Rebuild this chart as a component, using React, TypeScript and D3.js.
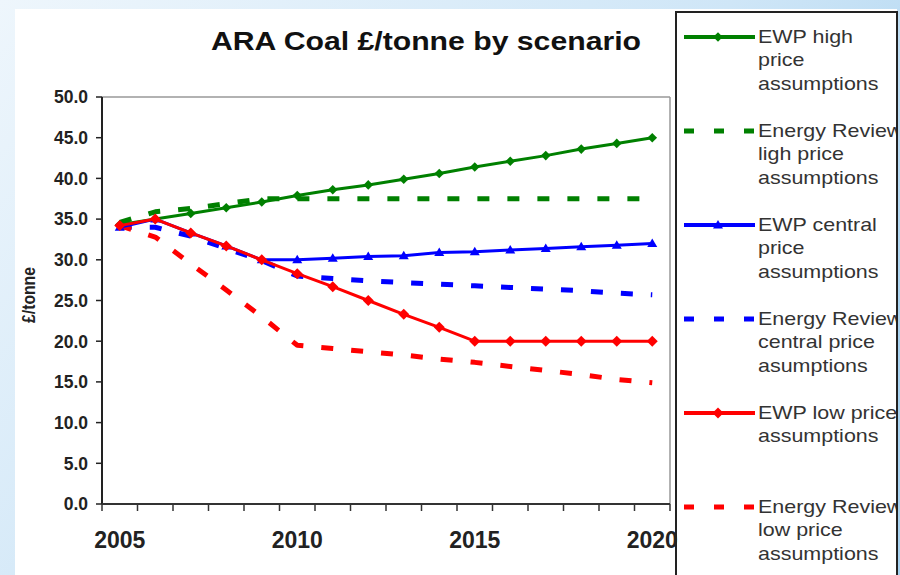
import React from 'react';
import * as d3 from 'd3';

const years = [2005, 2006, 2007, 2008, 2009, 2010, 2011, 2012, 2013, 2014, 2015, 2016, 2017, 2018, 2019, 2020];
const xLabelYears = [2005, 2010, 2015, 2020];
const yTicks = [0, 5, 10, 15, 20, 25, 30, 35, 40, 45, 50];

const ewpHigh = [34.3, 35.0, 35.7, 36.4, 37.1, 37.9, 38.6, 39.2, 39.9, 40.6, 41.4, 42.1, 42.8, 43.6, 44.3, 45.0];
const erHigh = [34.6, 35.9, 36.3, 36.9, 37.5, 37.5, 37.5, 37.5, 37.5, 37.5, 37.5, 37.5, 37.5, 37.5, 37.5, 37.5];
const ewpCentral = [34.0, 35.0, 33.3, 31.7, 30.0, 30.0, 30.2, 30.4, 30.5, 30.9, 31.0, 31.2, 31.4, 31.6, 31.8, 32.0];
const erCentral = [34.0, 34.0, 32.9, 31.4, 29.9, 28.0, 27.7, 27.4, 27.2, 27.0, 26.8, 26.6, 26.4, 26.2, 25.9, 25.7];
const ewpLow = [34.2, 35.0, 33.3, 31.7, 30.0, 28.3, 26.7, 25.0, 23.3, 21.7, 20.0, 20.0, 20.0, 20.0, 20.0, 20.0];
const erLow = [34.2, 32.8, 29.5, 26.3, 23.0, 19.5, 19.1, 18.7, 18.3, 17.8, 17.4, 16.9, 16.4, 15.9, 15.3, 14.9];

const titleText = 'ARA Coal £/tonne by scenario';
const yAxisLabel = '£/tonne';

const legendHigh = ['EWP high', 'price', 'assumptions'];
const legendErHigh = ['Energy Review', 'ligh price', 'assumptions'];
const legendCentral = ['EWP central', 'price', 'assumptions'];
const legendErCentral = ['Energy Review', 'central price', 'asumptions'];
const legendLow = ['EWP low price', 'assumptions'];
const legendErLow = ['Energy Review', 'low price', 'assumptions'];

type Series = {
  values: number[];
  label: string[];
  color: string;
  dashed: boolean;
  marker: 'diamond' | 'bigdiamond' | 'triangle' | null;
  legendBaseline: number;
};

const series: Series[] = [
  { values: ewpHigh, label: legendHigh, color: '#008000', dashed: false, marker: 'diamond', legendBaseline: 43 },
  { values: erHigh, label: legendErHigh, color: '#008000', dashed: true, marker: null, legendBaseline: 137 },
  { values: ewpCentral, label: legendCentral, color: '#0000ff', dashed: false, marker: 'triangle', legendBaseline: 231 },
  { values: erCentral, label: legendErCentral, color: '#0000ff', dashed: true, marker: null, legendBaseline: 325 },
  { values: ewpLow, label: legendLow, color: '#ff0000', dashed: false, marker: 'bigdiamond', legendBaseline: 419 },
  { values: erLow, label: legendErLow, color: '#ff0000', dashed: true, marker: null, legendBaseline: 513 },
];

const drawOrder = [1, 3, 5, 0, 2, 4];

function markerPath(kind: string): string {
  if (kind === 'triangle') return 'M0,-5L5,3.5L-5,3.5Z';
  const r = kind === 'bigdiamond' ? 5.5 : 4.8;
  return `M0,${-r}L${r},0L0,${r}L${-r},0Z`;
}

export default function App() {
  const W = 900;
  const H = 575;
  const plotL = 102, plotR = 670, plotT = 97, plotB = 504;

  const x = d3.scaleBand<number>().domain(years).range([plotL, plotR]).padding(0);
  const cx = (yr: number) => (x(yr) as number) + x.bandwidth() / 2;
  const y = d3.scaleLinear().domain([0, 50]).range([plotB, plotT]);
  const line = d3
    .line<number>()
    .x((_, i) => cx(years[i]))
    .y((d) => y(d));

  const tickXs = [...years.map((yr) => x(yr) as number), plotR];
  const font = '"Liberation Sans", Arial, sans-serif';

  return (
    <svg
      width={W}
      height={H}
      style={{ position: 'absolute', left: 0, top: 0, display: 'block' }}
      fontFamily={font}
    >
      <defs>
        <linearGradient id="bg" x1="0" y1="0" x2="1" y2="0.6">
          <stop offset="0" stopColor="#eef6fc" />
          <stop offset="0.6" stopColor="#cfe6f7" />
          <stop offset="1" stopColor="#a6d1ef" />
        </linearGradient>
        <clipPath id="legclip">
          <rect x={676} y={12} width={220} height={600} />
        </clipPath>
      </defs>
      <rect x={0} y={0} width={W} height={H} fill="url(#bg)" />
      <rect x={15} y={9} width={882} height={H} fill="#ffffff" />

      {/* title */}
      <text
        x={426}
        y={50}
        textAnchor="middle"
        fontWeight="bold"
        fontSize={25}
        fill="#111"
        textLength={430}
        lengthAdjust="spacingAndGlyphs"
      >
        {titleText}
      </text>

      {/* plot frame */}
      <line x1={plotL} x2={plotR} y1={plotT} y2={plotT} stroke="#999" strokeWidth={1.5} />
      <line x1={plotR} x2={plotR} y1={plotT} y2={plotB} stroke="#999" strokeWidth={1.5} />

      {/* y axis */}
      <line x1={plotL} x2={plotL} y1={plotT} y2={plotB} stroke="#222" strokeWidth={2} />
      {yTicks.map((t) => (
        <g key={t}>
          <line x1={plotL - 6} x2={plotL} y1={y(t)} y2={y(t)} stroke="#222" strokeWidth={1.5} />
          <text
            x={88}
            y={y(t)}
            dy="0.36em"
            textAnchor="end"
            fontSize={17.5}
            fontWeight="bold"
            fill="#222"
          >
            {t.toFixed(1)}
          </text>
        </g>
      ))}
      <text
        transform="translate(35,295) rotate(-90)"
        textAnchor="middle"
        fontSize={18}
        fontWeight="bold"
        fill="#222"
        textLength={56}
        lengthAdjust="spacingAndGlyphs"
      >
        {yAxisLabel}
      </text>

      {/* x axis */}
      <line x1={plotL} x2={plotR} y1={plotB} y2={plotB} stroke="#333" strokeWidth={2} />
      {tickXs.map((tx, i) => (
        <line key={i} x1={tx} x2={tx} y1={plotB} y2={plotB + 7} stroke="#333" strokeWidth={1.5} />
      ))}
      {xLabelYears.map((yr) => (
        <text key={yr} x={cx(yr)} y={548} textAnchor="middle" fontSize={23} fontWeight="bold" fill="#222">
          {yr}
        </text>
      ))}

      {/* series */}
      {drawOrder.map((si) => {
        const s = series[si];
        return (
          <g key={si}>
            <path
              d={line(s.values) || ''}
              fill="none"
              stroke={s.color}
              strokeWidth={s.dashed ? 5 : 3}
              strokeDasharray={s.dashed ? '12,18' : undefined}
              strokeLinejoin="round"
            />
            {s.marker &&
              s.values.map((v, i) => (
                <path
                  key={i}
                  d={markerPath(s.marker as string)}
                  transform={`translate(${cx(years[i])},${y(v)})`}
                  fill={s.color}
                />
              ))}
          </g>
        );
      })}

      {/* legend */}
      <rect x={676} y={12} width={221} height={620} fill="none" stroke="#222" strokeWidth={2} />
      {series.map((s, si) => {
        const ly = s.legendBaseline - 6;
        return (
          <g key={si}>
            <line
              x1={684}
              x2={755}
              y1={ly}
              y2={ly}
              stroke={s.color}
              strokeWidth={s.dashed ? 5 : 4}
              strokeDasharray={s.dashed ? '10,20' : undefined}
            />
            {s.marker && (
              <path d={markerPath(s.marker)} transform={`translate(718,${ly})`} fill={s.color} />
            )}
            <g clipPath="url(#legclip)">
              {s.label.map((t, li) => (
                <text
                  key={li}
                  transform={`translate(758,${s.legendBaseline + li * 23.4}) scale(1.13,1)`}
                  fontSize={19}
                  fill="#333"
                >
                  {t}
                </text>
              ))}
            </g>
          </g>
        );
      })}
    </svg>
  );
}
